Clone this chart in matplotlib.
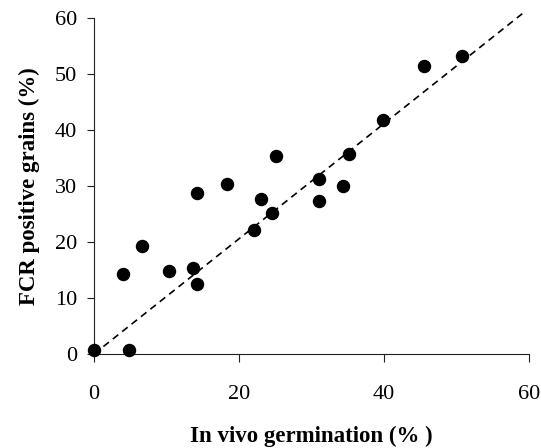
import matplotlib.pyplot as plt

plt.rcParams['font.family'] = ['Liberation Serif', 'DejaVu Serif']

# In vivo germination (%) vs FCR positive grains (%)
germination = [0.0, 4.8, 4.05, 6.66, 10.3, 13.6, 14.2, 14.2, 18.3, 22.0,
               23.0, 24.5, 25.1, 31.0, 31.0, 34.4, 35.2, 39.9, 45.5, 50.7]
fcr_positive = [0.7, 0.7, 14.2, 19.2, 14.9, 15.3, 12.5, 28.7, 30.4, 22.2,
                27.6, 25.1, 35.4, 31.25, 27.3, 30.0, 35.7, 41.8, 51.5, 53.3]

# dashed reference line
line_x = [0, 59.2]
line_y = [0, 60.9]

x_ticks = [0, 20, 40, 60]
y_ticks = [0, 10, 20, 30, 40, 50, 60]

fig = plt.figure(figsize=(5.41, 4.48), dpi=100)
ax = fig.add_axes([94/541, 94/448, 435/541, 336/448])

ax.plot(line_x, line_y, color='black', lw=1.2, linestyle=(0, (4.2, 3.0)),
        clip_on=False)
ax.scatter(germination, fcr_positive, s=75, color='black', zorder=3,
           clip_on=False)

ax.set_xlim(0, 60)
ax.set_ylim(0, 60)
ax.set_xticks(x_ticks)
ax.set_yticks(y_ticks)

for side in ['top', 'right']:
    ax.spines[side].set_visible(False)
for side in ['left', 'bottom']:
    ax.spines[side].set_linewidth(0.8)
    ax.spines[side].set_color('#222222')

ax.tick_params(axis='x', direction='out', length=6, width=0.8,
               pad=16, labelsize=16, color='#222222')
ax.tick_params(axis='y', direction='out', length=5, width=0.8,
               pad=7, labelsize=16, color='#222222')

ax.set_xlabel('In vivo germination (% )', fontsize=16.5, fontweight='bold',
              labelpad=16)
ax.set_ylabel('FCR positive grains (%)', fontsize=16.5, fontweight='bold',
              labelpad=11)

fig.savefig('out.png', dpi=100)
